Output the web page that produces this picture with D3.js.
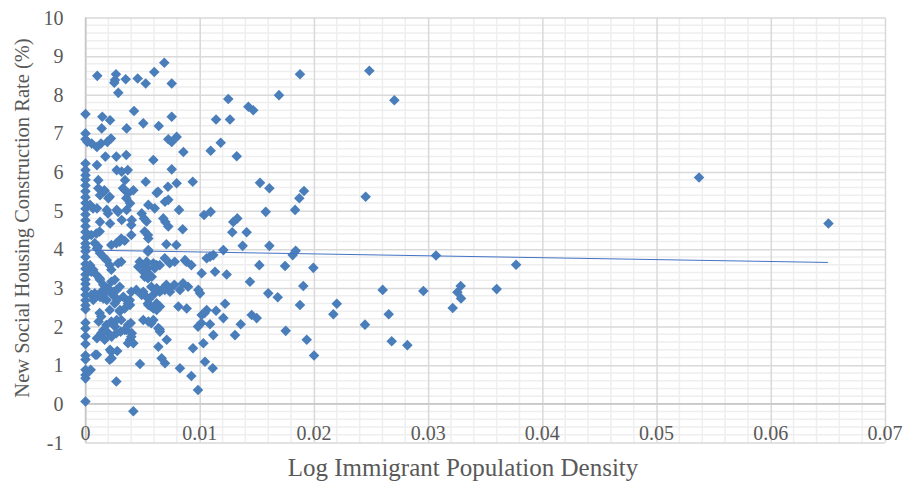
<!DOCTYPE html>
<html>
<head>
<meta charset="utf-8">
<script src="https://cdn.jsdelivr.net/npm/d3@7"></script>
<style>
  html, body { margin: 0; padding: 0; background: #fff; }
  svg { display: block; }
  text { font-family: "Liberation Serif", "Times New Roman", serif; fill: #595959; }
</style>
</head>
<body>
<div id="chart"></div>
<script>
// x values at zero (points sitting on the y axis)
const zeroColumnY = [7.5, 7.0, 6.85, 6.22, 6.05, 5.92, 5.8, 5.65, 5.5, 5.35, 5.2, 5.05, 4.9, 4.75, 4.6, 4.45,
  4.3, 4.15, 4.05, 3.95, 3.8, 3.62, 3.5, 3.35, 3.22, 3.1, 2.97, 2.82, 2.68, 2.55, 2.45, 2.1, 1.95, 1.75,
  1.55, 1.25, 1.15, 0.88, 0.75, 0.66, 0.06];

// remaining points: immigrant density (x) and construction rate (y)
const pointsX = [
  0.00103, 0.00267, 0.00258, 0.00252, 0.00287, 0.00352, 0.00457, 0.00527, 0.00602, 0.0069, 0.00755,
  0.00147, 0.00215, 0.00142, 0.0036, 0.00425, 0.00506, 0.00641, 0.00755,
  0.00725, 0.00755, 0.00798, 0.00857, 0.00016, 0.00054, 0.001, 0.00136, 0.00191, 0.00223,
  0.001, 0.00174, 0.0027, 0.00357, 0.00594, 0.00755,
  0.00273, 0.00317, 0.0037, 0.00346, 0.00112, 0.00112, 0.00127, 0.00165, 0.002, 0.00346, 0.00375, 0.00419,
  0.0039, 0.0036, 0.00273, 0.00186, 0.001, 0.0004,
  0.00798, 0.00939, 0.00527, 0.00623, 0.0055, 0.00696, 0.00725, 0.00819, 0.00681, 0.00725, 0.00851,
  0.00492, 0.00512, 0.00535, 0.00317, 0.00127, 0.00215, 0.00405,
  0.00722, 0.00635, 0.00328, 0.00357, 0.00168, 0.00212, 0.00066, 0.00197, 0.00285, 0.00606, 0.00699,
  0.00401, 0.00051, 0.00095, 0.00124, 0.00313, 0.00343, 0.00401, 0.00518, 0.00547, 0.00226, 0.0027, 0.003,
  0.00547, 0.00708, 0.00795, 0.00081, 0.0011, 0.00285, 0.00313, 0.00212, 0.00226, 0.00474, 0.00518, 0.00547,
  0.00694, 0.00737, 0.00606, 0.0065, 0.00781, 0.00883, 0.00927, 0.00898, 0.00854, 0.00022, 0.00051, 0.00095,
  0.00124, 0.00226, 0.00256, 0.003, 0.00518, 0.00547, 0.00576, 0.00708, 0.00737, 0.00197, 0.00168,
  0.001, 0.00127, 0.00156, 0.00186, 0.0004, 0.00068, 0.00127, 0.00156, 0.002, 0.00243, 0.00273,
  0.00127, 0.00156, 0.00186, 0.00068, 0.00331, 0.00375, 0.0039, 0.00302, 0.00273, 0.00258,
  0.00156, 0.002, 0.00229, 0.001, 0.0036, 0.00405, 0.0039, 0.00419, 0.00215, 0.00229, 0.001, 0.0027, 0.00419,
  0.00477, 0.0055, 0.0055, 0.00462, 0.00536, 0.00594, 0.00623, 0.00506, 0.0055, 0.0058, 0.00623, 0.00667,
  0.0074, 0.00506, 0.00492, 0.0055, 0.00594, 0.00623, 0.00506, 0.0055, 0.00594, 0.00638, 0.00652, 0.00711,
  0.00638, 0.00667, 0.00696,
  0.00871, 0.00778, 0.00827, 0.00988, 0.01003, 0.01061, 0.00813, 0.00886, 0.00623, 0.00652, 0.00827,
  0.00927, 0.00985, 0.00941, 0.00985, 0.01014, 0.01044,
  0.00045, 0.00086, 0.00212, 0.00226, 0.00278, 0.00372, 0.00401, 0.00168, 0.0027, 0.00308, 0.00343,
  0.00396, 0.00372, 0.00138, 0.00182, 0.00115, 0.00138, 0.00124, 0.00226, 0.00313, 0.003, 0.00343, 0.00372,
  0.00387, 0.00256, 0.00278, 0.00212, 0.00576, 0.00547, 0.00571, 0.0065,
  0.00138, 0.00182, 0.00226, 0.00256, 0.00051, 0.00081, 0.00401, 0.00445, 0.00533, 0.00562, 0.00606,
  0.0065, 0.00694,
  0.01038, 0.01096, 0.0125, 0.01143, 0.01265, 0.01184, 0.01096, 0.01324, 0.01426, 0.01469, 0.01694,
  0.01878, 0.01528, 0.0161, 0.01578, 0.01835, 0.01872, 0.01913, 0.01294, 0.01329, 0.01411, 0.01285,
  0.02485, 0.02704, 0.02453, 0.05372, 0.06505,
  0.03069, 0.0377, 0.036, 0.03285, 0.03256, 0.03288, 0.03215, 0.02958, 0.02602, 0.02655, 0.02681,
  0.02818, 0.02447, 0.022, 0.0217, 0.01995, 0.01907, 0.01937, 0.02001, 0.01878,
  0.01376, 0.0161, 0.01207, 0.0184, 0.01814, 0.01061, 0.0109, 0.01119, 0.01522, 0.01747, 0.01017,
  0.01134, 0.01236, 0.0144, 0.016,
  0.01017, 0.01143, 0.01222, 0.01207, 0.0109, 0.01119, 0.01309, 0.01359, 0.01455, 0.01499, 0.01683,
  0.01753, 0.01032, 0.01046, 0.01114
];
const pointsY = [
  8.49, 8.53, 8.38, 8.31, 8.05, 8.40, 8.42, 8.29, 8.59, 8.83, 8.29,
  7.43, 7.34, 7.13, 7.13, 7.58, 7.26, 7.19, 7.43,
  6.85, 6.78, 6.91, 6.52, 6.78, 6.74, 6.65, 6.74, 6.78, 6.87,
  6.18, 6.4, 6.4, 6.44, 6.31, 6.07,
  6.05, 6.01, 6.05, 5.79, 5.79, 5.58, 5.40, 5.53, 5.32, 5.53, 5.45, 5.53,
  5.19, 5.02, 5.02, 5.02, 5.06, 5.15,
  5.71, 5.75, 5.75, 5.46, 5.15, 5.23, 5.28, 5.02, 4.80, 4.59, 4.52,
  4.93, 4.80, 4.72, 4.76, 4.71, 4.67, 4.76,
  5.62, 5.49, 5.58, 5.32, 5.51, 5.36, 5.06, 4.93, 4.97, 5.06, 4.71,
  4.63, 4.37, 4.41, 4.46, 4.28, 4.22, 4.37, 4.46, 4.37, 4.11, 4.16, 4.20,
  3.94, 4.13, 4.11, 4.16, 4.07, 3.64, 3.68, 3.59, 3.47, 3.68, 3.59, 3.51,
  3.77, 3.64, 3.51, 3.59, 3.68, 3.68, 3.59, 3.03, 3.12, 3.47, 3.42, 3.34,
  3.25, 3.16, 3.21, 3.03, 3.29, 3.25, 3.03, 3.08, 2.99, 2.99, 2.90,
  4.02, 3.9, 3.81, 3.72, 3.59, 3.47, 3.21, 3.08, 2.95, 2.90, 2.95,
  2.77, 2.73, 2.69, 2.69, 2.77, 2.65, 2.56, 2.43, 2.17, 2.0,
  1.91, 1.83, 1.74, 1.70, 1.91, 1.83, 1.66, 1.57, 1.40, 1.18, 1.27, 0.58, -0.19,
  1.03, 4.28, 3.98, 3.55, 3.68, 3.64, 3.59, 3.42, 3.38, 3.29, 2.99, 2.95,
  2.90, 2.90, 2.82, 2.56, 2.47, 2.43, 2.17, 2.13, 2.17, 1.96, 1.87, 1.66,
  1.48, 1.18, 1.05,
  3.72, 3.08, 2.95, 2.95, 2.86, 2.43, 2.52, 2.47, 2.60, 2.52, 0.92,
  0.72, 0.36, 1.44, 2.0, 2.09, 2.35,
  0.88, 1.27, 1.14, 1.35, 1.37, 1.57, 1.74, 1.66, 1.83, 1.87, 1.91,
  2.09, 2.04, 1.83, 2.04, 2.13, 2.26, 2.35, 2.13, 2.17, 2.39, 2.47, 2.60,
  2.69, 2.60, 2.69, 2.43, 2.09, 2.60, 2.53, 1.93,
  2.90, 2.90, 2.86, 2.77, 2.82, 2.86, 2.90, 2.95, 2.77, 2.73, 2.86,
  2.90, 2.95,
  4.89, 4.97, 7.89, 7.36, 7.36, 6.76, 6.55, 6.41, 7.69, 7.60, 7.99,
  8.53, 5.72, 5.58, 4.97, 5.02, 5.32, 5.51, 4.71, 4.80, 4.44, 4.44,
  8.62, 7.86, 5.36, 5.86, 4.67,
  3.84, 3.60, 2.97, 3.05, 2.89, 2.73, 2.48, 2.92, 2.95, 2.32, 1.62,
  1.52, 2.05, 2.59, 2.32, 3.52, 3.05, 1.66, 1.25, 2.56,
  4.09, 4.09, 3.98, 3.96, 3.85, 3.77, 3.81, 3.85, 3.59, 3.57, 3.38,
  3.42, 3.35, 3.16, 2.86,
  2.30, 2.41, 2.59, 2.22, 2.06, 1.78, 1.78, 2.06, 2.30, 2.22, 2.76,
  1.89, 1.57, 1.09, 0.92
];

// linear trendline end points
const trendX = [0, 0.065];
const trendY = [3.98, 3.66];

const xTicks = [0, 0.01, 0.02, 0.03, 0.04, 0.05, 0.06, 0.07];
const yTicks = [-1, 0, 1, 2, 3, 4, 5, 6, 7, 8, 9, 10];
const xTitle = 'Log Immigrant Population Density';
const yTitle = 'New Social Housing Construction Rate (%)';

const width = 912;
const height = 486;
const margin = { top: 17.5, right: 27, bottom: 43.5, left: 85.5 };
const innerW = width - margin.left - margin.right;
const innerH = height - margin.top - margin.bottom;

const data = zeroColumnY.map(y => ({ x: 0, y }))
  .concat(pointsX.map((x, i) => ({ x, y: pointsY[i] })));

const svg = d3.select('#chart')
  .append('svg')
    .attr('width', width)
    .attr('height', height);

const g = svg.append('g')
  .attr('transform', `translate(${margin.left}, ${margin.top})`);

const xScale = d3.scaleLinear().domain([0, 0.07]).range([0, innerW]);
const yScale = d3.scaleLinear().domain([-1, 10]).range([innerH, 0]);

// minor grid
const minorX = d3.range(0, 0.0701, 0.002).filter((d, i) => i % 5 !== 0);
const minorY = d3.range(-1, 10.01, 0.2).map(d => +d.toFixed(1)).filter(d => Math.abs(d - Math.round(d)) > 0.01);

g.append('g')
  .selectAll('line.minor-x')
  .data(minorX)
  .enter().append('line')
    .attr('x1', d => xScale(d)).attr('x2', d => xScale(d))
    .attr('y1', 0).attr('y2', innerH)
    .attr('stroke', '#eeeeee').attr('stroke-width', 1.5);

g.append('g')
  .selectAll('line.minor-y')
  .data(minorY)
  .enter().append('line')
    .attr('x1', 0).attr('x2', innerW)
    .attr('y1', d => yScale(d)).attr('y2', d => yScale(d))
    .attr('stroke', '#eeeeee').attr('stroke-width', 1.5);

// major grid
g.append('g')
  .call(d3.axisBottom(xScale).tickValues(xTicks).tickSize(innerH).tickFormat(''))
  .call(a => a.select('.domain').remove())
  .call(a => a.selectAll('line').attr('stroke', '#d9d9d9').attr('stroke-width', 1.5));

g.append('g')
  .call(d3.axisLeft(yScale).tickValues(yTicks).tickSize(-innerW).tickFormat(''))
  .call(a => a.select('.domain').remove())
  .call(a => a.selectAll('line').attr('stroke', '#d9d9d9').attr('stroke-width', 1.5));

// axis lines
g.append('line')
  .attr('x1', 0).attr('x2', innerW)
  .attr('y1', yScale(0)).attr('y2', yScale(0))
  .attr('stroke', '#c8c8c8').attr('stroke-width', 1.5);
g.append('line')
  .attr('x1', xScale(0)).attr('x2', xScale(0))
  .attr('y1', 0).attr('y2', innerH)
  .attr('stroke', '#c8c8c8').attr('stroke-width', 1.5);

// tick labels
g.append('g')
  .selectAll('text')
  .data(yTicks)
  .enter().append('text')
    .attr('x', -22)
    .attr('y', d => yScale(d))
    .attr('dy', '0.35em')
    .attr('text-anchor', 'end')
    .style('font-size', '20px')
    .text(d => d);

g.append('g')
  .selectAll('text')
  .data(xTicks)
  .enter().append('text')
    .attr('x', d => xScale(d))
    .attr('y', yScale(0) + 36)
    .attr('text-anchor', 'middle')
    .style('font-size', '20px')
    .text(d => d === 0 ? '0' : d3.format('.2f')(d));

// points
const diamond = d3.symbol().type(d3.symbolSquare).size(56);
g.append('g')
  .selectAll('path')
  .data(data)
  .enter().append('path')
    .attr('d', diamond)
    .attr('transform', d => `translate(${xScale(d.x)}, ${yScale(d.y)}) rotate(45)`)
    .attr('fill', '#4a7ebb');

// trendline
g.append('line')
  .attr('x1', xScale(trendX[0])).attr('x2', xScale(trendX[1]))
  .attr('y1', yScale(trendY[0])).attr('y2', yScale(trendY[1]))
  .attr('stroke', '#4472c4').attr('stroke-width', 1);

// titles
svg.append('text')
  .attr('x', 463)
  .attr('y', 476)
  .attr('text-anchor', 'middle')
  .style('font-size', '25px')
  .text(xTitle);

svg.append('text')
  .attr('transform', `translate(29, 218) rotate(-90)`)
  .attr('text-anchor', 'middle')
  .style('font-size', '20.5px')
  .text(yTitle);
</script>
</body>
</html>
